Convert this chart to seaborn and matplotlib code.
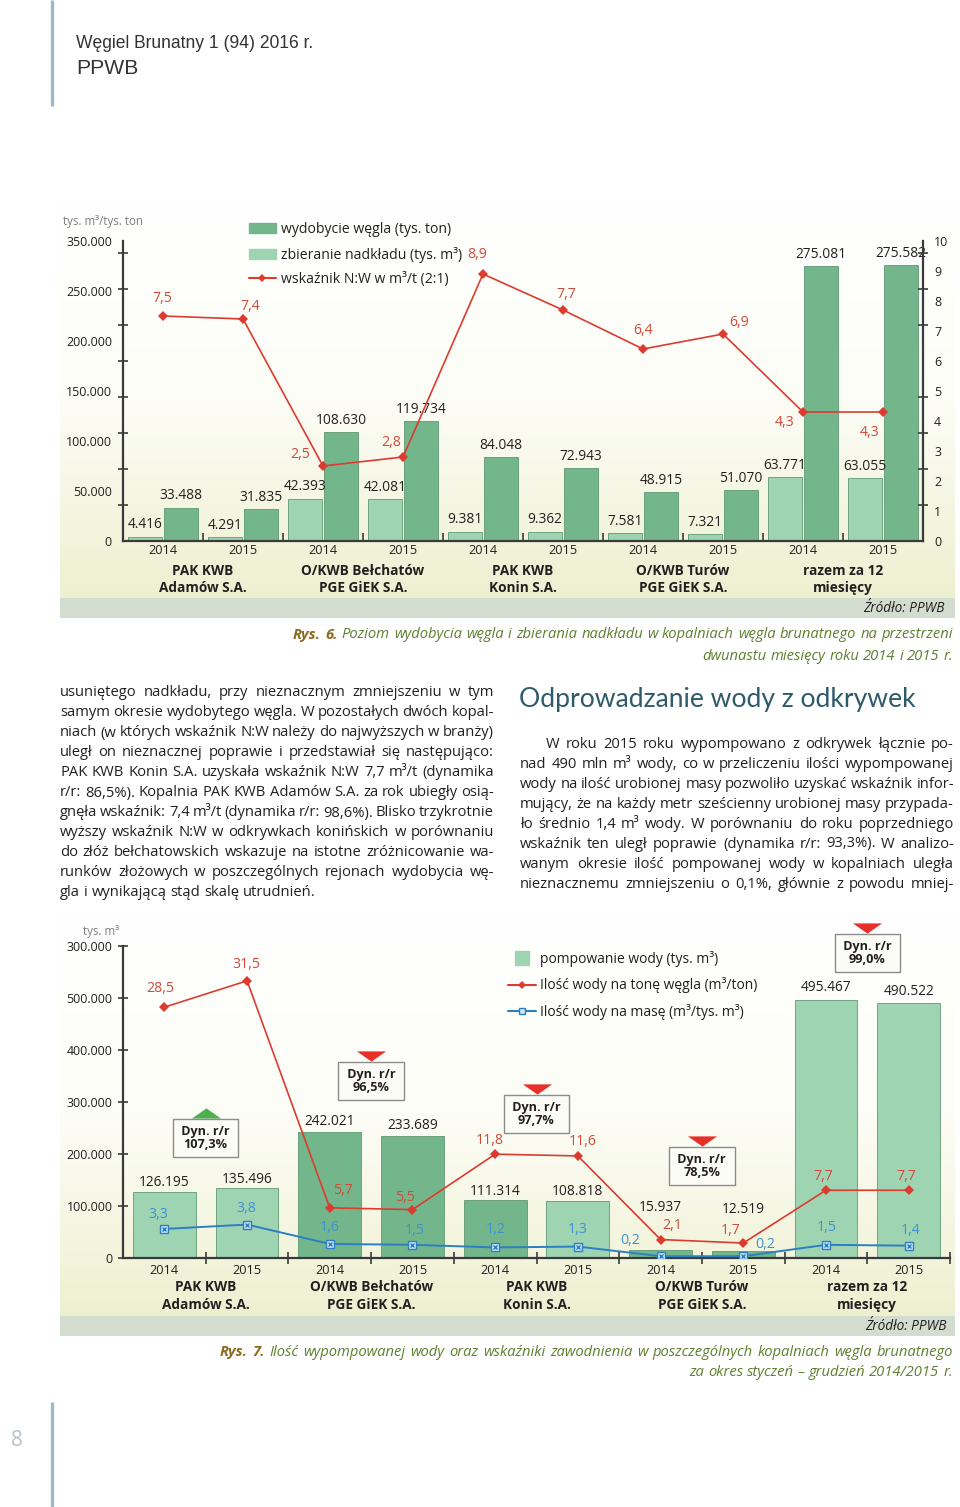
import numpy as np
import pandas as pd
import seaborn as sns
import matplotlib
matplotlib.use('Agg')
import matplotlib.pyplot as plt
import matplotlib.transforms as mtransforms
from matplotlib.colors import LinearSegmentedColormap
from matplotlib.patches import Patch, Rectangle
from matplotlib.lines import Line2D
from matplotlib.path import Path

# ---------------- data: Rys. 6 ----------------
mines = ['PAK KWB\nAdamów S.A.', 'O/KWB Bełchatów\nPGE GiEK S.A.', 'PAK KWB\nKonin S.A.',
         'O/KWB Turów\nPGE GiEK S.A.', 'razem za 12\nmiesięcy']
mine_keys = ['Adamów', 'Bełchatów', 'Konin', 'Turów', 'razem']
years = ['2014', '2015']
coal_kt = [4416, 4291, 42393, 42081, 9381, 9362, 7581, 7321, 63771, 63055]
overburden_km3 = [33488, 31835, 108630, 119734, 84048, 72943, 48915, 51070, 275081, 275582]
nw_ratio = [7.5, 7.4, 2.5, 2.8, 8.9, 7.7, 6.4, 6.9, 4.3, 4.3]

# ---------------- data: Rys. 7 ----------------
water_km3 = [126195, 135496, 242021, 233689, 111314, 108818, 15937, 12519, 495467, 490522]
water_per_coal = [28.5, 31.5, 5.7, 5.5, 11.8, 11.6, 2.1, 1.7, 7.7, 7.7]
water_per_mass = [3.3, 3.8, 1.6, 1.5, 1.2, 1.3, 0.2, 0.2, 1.5, 1.4]
dyn_rr = ['107,3%', '96,5%', '97,7%', '78,5%', '99,0%']
dyn_up = [True, False, False, False, False]

y1_labels = ['0', '50.000', '100.000', '150.000', '200.000', '250.000', '350.000']
y2_labels = ['0', '100.000', '200.000', '300.000', '400.000', '500.000', '300.000']

slots = [f'{m} {y}' for m in mine_keys for y in years]

# label placement (pixels), not data
nw_off = [(-1, 17), (7, 13), (-23, 11), (-12, 14), (-6, 19), (3, 15), (0, 19), (16, 11), (-18, -11), (-13, -20)]
wc_off = [(-4, 19), (-1, 16), (13, 17), (-7, 12), (-5, 14), (5, 14), (12, 14), (-13, 13), (-3, 14), (-2, 14)]
wm_off = [(-6, 14), (-1, 16), (0, 16), (2, 14), (0, 18), (0, 17), (-30, 16), (22, 12), (1, 17), (2, 15)]
water_lab_off = [2, 1, 3, 3, 1, 2, 35, 34, 5, 4]
box_y = [120, 177, 144, 92, 305]

DARK = '#74b68c'
LIGHT = '#9fd4b3'
RED = '#dc3b2f'
RED_T = '#cf4a3a'
BLUE = '#2b7fc2'
BLUE_T = '#3f92d2'
AX = '#3a3a3a'
TXT = '#231f20'

sns.set_theme(style='white')
plt.rcParams['font.family'] = ['Open Sans', 'DejaVu Sans']

W, H = 960, 1507
fig = plt.figure(figsize=(W / 100, H / 100), dpi=100)
px = mtransforms.Affine2D().scale(1 / W, -1 / H).translate(0, 1) + fig.transFigure


def pnum(v):
    return f'{v:,}'.replace(',', '.')


def pdec(v):
    return f'{v:.1f}'.replace('.', ',')


# ---------------- page background ----------------
bg = fig.add_axes([0, 0, 1, 1], zorder=-5)
bg.axis('off')
cmap = LinearSegmentedColormap.from_list('bg', ['#ffffff', '#fdfdf7', '#edf0d0'])
grad = np.linspace(0, 1, 256)[:, None]
bg.imshow(grad, cmap=cmap, extent=[60, 955, 598, 200], aspect='auto')
bg.imshow(grad, cmap=cmap, extent=[60, 955, 1316, 912], aspect='auto')
bg.add_patch(Rectangle((60, 598), 895, 20, color='#d2dccf', lw=0))
bg.add_patch(Rectangle((60, 1316), 895, 20, color='#d2dccf', lw=0))
bg.plot([52, 52], [0, 106], color='#9cb8c9', lw=2.4, solid_capstyle='butt')
bg.plot([52, 52], [1402, 1507], color='#9cb8c9', lw=2.4, solid_capstyle='butt')
bg.set_xlim(0, W)
bg.set_ylim(H, 0)

# ---------------- Rys. 6 chart ----------------
ax1 = fig.add_axes([123 / W, 1 - 541 / H, 800 / W, 300 / H])
ax1.set_facecolor('none')
df1 = pd.DataFrame({'slot': slots * 2,
                    'value': coal_kt + overburden_km3,
                    'series': ['coal'] * 10 + ['over'] * 10})
sns.barplot(data=df1, x='slot', y='value', hue='series', order=slots, hue_order=['coal', 'over'],
            palette={'coal': LIGHT, 'over': DARK}, width=0.9, gap=0.08, saturation=1,
            legend=False, ax=ax1, edgecolor='#5f9a74', linewidth=0.6)
for cont, vals in zip(ax1.containers, [coal_kt, overburden_km3]):
    ax1.bar_label(cont, labels=[pnum(v) for v in vals], padding=3, fontsize=9.9, color=TXT)
ax1.set_xlim(-0.5, 9.5)
ax1.set_ylim(0, 300000)
ax1.set_xlabel('')
ax1.set_ylabel('')
ax1.set_yticks(np.arange(0, 300001, 50000))
ax1.set_yticklabels(y1_labels)
ax1.set_yticks(np.arange(0, 290000, 36000), minor=True)
ax1.tick_params(axis='y', which='major', length=0, pad=8, labelsize=8.9, labelcolor=TXT)
ax1.tick_params(axis='y', which='minor', length=7, width=1.2, direction='inout', color=AX, left=True)
ax1.set_xticks(np.arange(0.5, 9, 1))
ax1.set_xticklabels([])
ax1.tick_params(axis='x', which='major', length=6, width=1.2, direction='in', color=AX, bottom=True)
for s in ['top', 'right']:
    ax1.spines[s].set_visible(False)
for s in ['left', 'bottom']:
    ax1.spines[s].set_color(AX)
    ax1.spines[s].set_linewidth(1.6)

ax1r = ax1.twinx()
sns.lineplot(x=slots, y=nw_ratio, ax=ax1r, sort=False, color=RED, lw=1.2, marker='D',
             markersize=5, markeredgewidth=0, legend=False)
ax1r.set_ylim(0, 10)
ax1r.set_ylabel('')
ax1r.set_yticks(np.arange(0, 11, 1))
ax1r.set_yticks(np.arange(0, 9.7, 1.2), minor=True)
ax1r.tick_params(axis='y', which='major', length=0, pad=8, labelsize=8.9, labelcolor=TXT)
ax1r.tick_params(axis='y', which='minor', length=7, width=1.2, direction='inout', color=AX, right=True)
for s in ['top', 'left', 'bottom']:
    ax1r.spines[s].set_visible(False)
ax1r.spines['right'].set_color(AX)
ax1r.spines['right'].set_linewidth(1.6)
for i, (v, (dx, dy)) in enumerate(zip(nw_ratio, nw_off)):
    ax1r.annotate(pdec(v), (i, v), xytext=(dx, dy), textcoords='offset pixels',
                  ha='center', va='center', fontsize=10.2, color=RED_T)

for i in range(10):
    ax1.annotate(years[i % 2], (i, 0), xycoords=('data', 'axes fraction'), xytext=(0, -10),
                 textcoords='offset pixels', ha='center', va='center', fontsize=9.2, color=TXT)
for k, m in enumerate(mines):
    for j, part in enumerate(m.split('\n')):
        ax1.annotate(part, (2 * k + 0.5, 0), xycoords=('data', 'axes fraction'),
                     xytext=(0, -30 - 17 * j), textcoords='offset pixels', ha='center', va='center',
                     fontsize=9.8, fontweight='bold', color=TXT)

leg1 = ax1.legend(handles=[Patch(color=DARK, label='wydobycie węgla (tys. ton)'),
                           Patch(color=LIGHT, label='zbieranie nadkładu (tys. m³)'),
                           Line2D([], [], color=RED, marker='D', markersize=4, markeredgewidth=0,
                                  label='wskaźnik N:W w m³/t (2:1)')],
                  loc='upper left', bbox_to_anchor=(249 / W, 1 - 222 / H), bbox_transform=fig.transFigure,
                  frameon=False, fontsize=10.1, handlelength=1.9, handleheight=0.7, handletextpad=0.4,
                  labelspacing=0.68, borderpad=0, borderaxespad=0)
for t in leg1.get_texts():
    t.set_color(TXT)

# ---------------- Rys. 7 chart ----------------
bar2_colors = [LIGHT, LIGHT, DARK, DARK, DARK, LIGHT, DARK, DARK, LIGHT, LIGHT]
ax2 = fig.add_axes([123 / W, 1 - 1258 / H, 827 / W, 312 / H])
ax2.set_facecolor('none')
df2 = pd.DataFrame({'slot': slots, 'value': water_km3})
sns.barplot(data=df2, x='slot', y='value', hue='slot', order=slots, hue_order=slots,
            palette=bar2_colors, width=0.76, saturation=1, legend=False, ax=ax2,
            edgecolor='#5f9a74', linewidth=0.6)
for i, (v, off) in enumerate(zip(water_km3, water_lab_off)):
    ax2.annotate(pnum(v), (i, v), xytext=(0, off), textcoords='offset pixels',
                 ha='center', va='bottom', fontsize=9.9, color=TXT)
ax2.set_xlim(-0.5, 9.5)
ax2.set_ylim(0, 600000)
ax2.set_xlabel('')
ax2.set_ylabel('')
ax2.set_yticks(np.arange(0, 600001, 100000))
ax2.set_yticklabels(y2_labels)
ax2.tick_params(axis='y', length=7, width=1.2, direction='inout', color=AX, pad=4,
                labelsize=8.9, labelcolor=TXT, left=True)
ax2.set_xticks(np.arange(0.5, 10, 1))
ax2.set_xticklabels([])
ax2.tick_params(axis='x', length=8, width=1.2, direction='inout', color=AX, bottom=True)
for s in ['top', 'right']:
    ax2.spines[s].set_visible(False)
for s in ['left', 'bottom']:
    ax2.spines[s].set_color(AX)
    ax2.spines[s].set_linewidth(1.6)

ax2r = ax2.twinx()
sns.lineplot(x=slots, y=water_per_coal, ax=ax2r, sort=False, color=RED, lw=1.2, marker='D',
             markersize=5, markeredgewidth=0, legend=False)
sns.lineplot(x=slots, y=water_per_mass, ax=ax2r, sort=False, color=BLUE, lw=1.4, marker='s',
             markersize=6, markerfacecolor='#cfe6f6', markeredgecolor=BLUE, markeredgewidth=1,
             legend=False)
ax2r.plot(range(10), water_per_mass, ls='', marker='x', ms=3.5, mew=1, color=BLUE)
ax2r.set_ylim(0, 312 / 8.8)
ax2r.set_ylabel('')
ax2r.axis('off')
for i, (v, (dx, dy)) in enumerate(zip(water_per_coal, wc_off)):
    ax2r.annotate(pdec(v), (i, v), xytext=(dx, dy), textcoords='offset pixels',
                  ha='center', va='center', fontsize=10.2, color=RED_T)
for i, (v, (dx, dy)) in enumerate(zip(water_per_mass, wm_off)):
    ax2r.annotate(pdec(v), (i, v), xytext=(dx, dy), textcoords='offset pixels',
                  ha='center', va='center', fontsize=10.2, color=BLUE_T)

for i in range(10):
    ax2.annotate(years[i % 2], (i, 0), xycoords=('data', 'axes fraction'), xytext=(0, -12),
                 textcoords='offset pixels', ha='center', va='center', fontsize=9.2, color=TXT)
for k, m in enumerate(mines):
    for j, part in enumerate(m.split('\n')):
        ax2.annotate(part, (2 * k + 0.5, 0), xycoords=('data', 'axes fraction'),
                     xytext=(0, -29 - 18 * j), textcoords='offset pixels', ha='center', va='center',
                     fontsize=9.8, fontweight='bold', color=TXT)

tri_down = Path([(-1, 0.35), (1, 0.35), (0, -0.35), (-1, 0.35)])
tri_up = Path([(-1, -0.35), (1, -0.35), (0, 0.35), (-1, -0.35)])
xt = ax2.get_xaxis_transform()
for k, (lab, up, by) in enumerate(zip(dyn_rr, dyn_up, box_y)):
    xc = 2 * k + 0.5
    ax2.text(xc, by / 312, ' Dyn. r/r \n' + lab, transform=xt, ha='center', va='center',
             fontsize=9.1, fontweight='bold', color=TXT, linespacing=1.05,
             bbox=dict(boxstyle='square,pad=0.42', fc='#fcfcf6', ec='#8c8c8c', lw=1))
    ax2.plot([xc], [(by + 25) / 312], transform=xt, marker=tri_up if up else tri_down, ms=21,
             ls='', mew=0, color='#4caf50' if up else '#e8302a', clip_on=False)

leg2 = ax2.legend(handles=[Line2D([], [], ls='', marker='s', ms=10, color=LIGHT, label='pompowanie wody (tys. m³)'),
                           Line2D([], [], color=RED, marker='D', ms=4, mew=0,
                                  label='Ilość wody na tonę węgla (m³/ton)'),
                           Line2D([], [], color=BLUE, marker='s', ms=5, mfc='#cfe6f6', mec=BLUE,
                                  label='Ilość wody na masę (m³/tys. m³)')],
                  loc='upper left', bbox_to_anchor=(508 / W, 1 - 951 / H), bbox_transform=fig.transFigure,
                  frameon=False, fontsize=10, handlelength=2.0, handletextpad=0.3,
                  labelspacing=0.75, borderpad=0, borderaxespad=0)
for t in leg2.get_texts():
    t.set_color(TXT)

# ---------------- page text ----------------
renderer = fig.canvas.get_renderer()


def twidth(s, **kw):
    t = fig.text(0, 0, s, **kw)
    w = t.get_window_extent(renderer).width
    t.remove()
    return w


def fit_size(lines, avail, base, **kw):
    # largest size at which every line still fits its width
    return min(base * a / twidth(s, fontsize=base, **kw) for s, a in zip(lines, avail))


def set_line(x0, x1, y, runs, align='justify', **kw):
    words = []
    for s, st in runs:
        for w in s.split():
            words.append((w, st))
    size = kw.pop('fontsize')
    while True:
        objs = [fig.text(0, 0, w, transform=px, va='center', ha='left', fontsize=size, **{**kw, **st})
                for w, st in words]
        widths = [o.get_window_extent(renderer).width for o in objs]
        space = twidth('a a', fontsize=size, **kw) - twidth('aa', fontsize=size, **kw)
        total = sum(widths)
        # shrink a line that cannot keep reasonable word gaps
        if align != 'justify' or len(objs) < 2 or (x1 - x0 - total) / (len(objs) - 1) > 0.7 * space:
            break
        for o in objs:
            o.remove()
        size *= 0.99
    if align == 'justify' and len(objs) > 1:
        gap = (x1 - x0 - total) / (len(objs) - 1)
    else:
        gap = space
    line_w = total + gap * (len(objs) - 1)
    x = x1 - line_w if align == 'right' else x0
    for o, w in zip(objs, widths):
        o.set_position((x, y))
        x += w + gap


head_size = fit_size(['Węgiel Brunatny 1 (94) 2016 r.'], [239], 12, family='Liberation Sans')
fig.text(76, 44, 'Węgiel Brunatny 1 (94) 2016 r.', transform=px, va='center', ha='left',
         family='Liberation Sans', fontsize=head_size, color='#333333')
fig.text(76, 68, 'PPWB', transform=px, va='center', ha='left',
         family='Liberation Sans', fontsize=15.2, color='#333333')
fig.text(11, 1440, '8', transform=px, va='center', ha='left', fontsize=15, color='#b6c3cb')

fig.text(63, 222, 'tys. m³/tys. ton', transform=px, va='center', ha='left', fontsize=8.3, color='#7d7d7d')
fig.text(83, 931, 'tys. m³', transform=px, va='center', ha='left', fontsize=8.3, color='#7d7d7d')
fig.text(945, 609, 'Źródło: PPWB', transform=px, va='center', ha='right', fontsize=9.8,
         style='italic', color=TXT)
fig.text(947, 1327, 'Źródło: PPWB', transform=px, va='center', ha='right', fontsize=9.8,
         style='italic', color=TXT)

cap6 = 'Poziom wydobycia węgla i zbierania nadkładu w kopalniach węgla brunatnego na przestrzeni'
cap7 = 'Ilość wypompowanej wody oraz wskaźniki zawodnienia w poszczególnych kopalniach węgla brunatnego'
cap_size = fit_size(['Rys. 6. ' + cap6, 'Rys. 7. ' + cap7], [652, 725], 10, style='italic')
CAP = dict(fontsize=cap_size, style='italic', color='#5f7f2f')
RYS = {'fontweight': 'bold', 'color': '#8a6a1d'}
set_line(293, 953, 635, [('Rys. 6.', RYS), (cap6, {})], **CAP)
set_line(293, 953, 656, [('dwunastu miesięcy roku 2014 i 2015 r.', {})], align='right', **CAP)
set_line(220, 953, 1352, [('Rys. 7.', RYS), (cap7, {})], **CAP)
set_line(220, 953, 1372, [('za okres styczeń – grudzień 2014/2015 r.', {})], align='right', **CAP)

left_col = [
    'usuniętego nadkładu, przy nieznacznym zmniejszeniu w tym',
    'samym okresie wydobytego węgla. W pozostałych dwóch kopal-',
    'niach (w których wskaźnik N:W należy do najwyższych w branży)',
    'uległ on nieznacznej poprawie i przedstawiał się następująco:',
    'PAK KWB Konin S.A. uzyskała wskaźnik N:W 7,7 m³/t (dynamika',
    'r/r: 86,5%). Kopalnia PAK KWB Adamów S.A. za rok ubiegły osią-',
    'gnęła wskaźnik: 7,4 m³/t (dynamika r/r: 98,6%). Blisko trzykrotnie',
    'wyższy wskaźnik N:W w odkrywkach konińskich w porównaniu',
    'do złóż bełchatowskich wskazuje na istotne zróżnicowanie wa-',
    'runków złożowych w poszczególnych rejonach wydobycia wę-',
    'gla i wynikającą stąd skalę utrudnień.',
]
right_col = [
    'W roku 2015 roku wypompowano z odkrywek łącznie po-',
    'nad 490 mln m³ wody, co w przeliczeniu ilości wypompowanej',
    'wody na ilość urobionej masy pozwoliło uzyskać wskaźnik infor-',
    'mujący, że na każdy metr sześcienny urobionej masy przypada-',
    'ło średnio 1,4 m³ wody. W porównaniu do roku poprzedniego',
    'wskaźnik ten uległ poprawie (dynamika r/r: 93,3%). W analizo-',
    'wanym okresie ilość pompowanej wody w kopalniach uległa',
    'nieznacznemu zmniejszeniu o 0,1%, głównie z powodu mniej-',
]
BODY = dict(fontsize=10.6, color=TXT)
for n, line in enumerate(left_col):
    set_line(60, 494, 693 + 20 * n, [(line, {})],
             align='left' if n == len(left_col) - 1 else 'justify', **BODY)
for n, line in enumerate(right_col):
    set_line(546 if n == 0 else 520, 954, 744 + 20 * n, [(line, {})], **BODY)

heading = 'Odprowadzanie wody z odkrywek'
hd_size = fit_size([heading], [397], 19, family=['Lato', 'Open Sans'])
fig.text(519, 699, heading, transform=px, va='center', ha='left', family=['Lato', 'Open Sans'],
         fontsize=hd_size, color='#2d5b69')

fig.savefig('out.png', dpi=100)
